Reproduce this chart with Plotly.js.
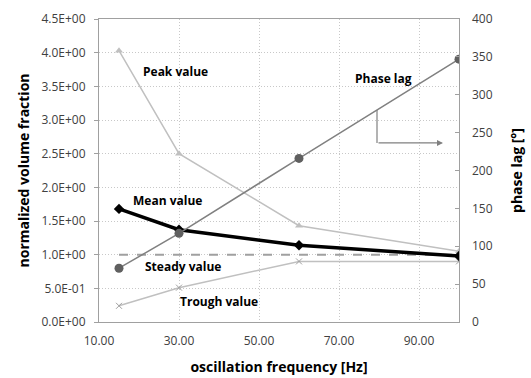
<!DOCTYPE html>
<html><head><meta charset="utf-8">
<script src="https://cdn.plot.ly/plotly-3.0.1.min.js"></script>
<style>body{margin:0;background:#fff}#c{width:531px;height:378px}</style>
</head><body><div id="c"></div>
<script>
const freq = [15, 30, 60, 100];
const peakValue = [4.03, 2.50, 1.43, 1.05];
const meanValue = [1.68, 1.37, 1.14, 0.98];
const troughValue = [0.24, 0.51, 0.90, 0.90];
const steadyX = [15, 100];
const steadyValue = [1.0, 1.0];
const phaseLag = [71, 117, 216, 347];
const yTickVals = [0, 0.5, 1, 1.5, 2, 2.5, 3, 3.5, 4, 4.5];
const yTickText = ["0.0E+00","5.0E-01","1.0E+00","1.5E+00","2.0E+00","2.5E+00","3.0E+00","3.5E+00","4.0E+00","4.5E+00"];
const xTickVals = [10, 30, 50, 70, 90];
const xTickText = ["10.00","30.00","50.00","70.00","90.00"];
const y2TickVals = [0, 50, 100, 150, 200, 250, 300, 350, 400];

const traces = [
  {x: freq, y: peakValue, mode: 'lines+markers', line: {color: '#c0c0c0', width: 1.5},
   marker: {symbol: 'triangle-up', size: 7, color: '#c0c0c0'}},
  {x: steadyX, y: steadyValue, mode: 'lines', line: {color: '#a0a0a0', width: 2, dash: 'dash'}},
  {x: freq, y: troughValue, mode: 'lines+markers', line: {color: '#c0c0c0', width: 1.5},
   marker: {symbol: 'x-thin', size: 6, color: '#a0a0a0', line: {color: '#a0a0a0', width: 1}}},
  {x: freq, y: meanValue, mode: 'lines+markers', line: {color: '#000', width: 3.5},
   marker: {symbol: 'diamond', size: 8, color: '#000'}},
  {x: freq, y: phaseLag, yaxis: 'y2', mode: 'lines+markers', line: {color: '#808080', width: 1.5},
   marker: {symbol: 'circle', size: 9, color: '#606060'}}
];

const fnt = {family: 'Open Sans, sans-serif', size: 12, color: '#404040'};
const bold = {family: 'Open Sans, sans-serif', size: 12, color: '#000', weight: 'bold'};
const titleFont = {family: 'Open Sans, sans-serif', size: 14, color: '#000', weight: 'bold'};

const layout = {
  width: 531, height: 378,
  margin: {l: 99, r: 72, t: 19, b: 56},
  showlegend: false,
  paper_bgcolor: '#fff', plot_bgcolor: '#fff',
  xaxis: {range: [10, 100], tickvals: xTickVals, ticktext: xTickText, showgrid: true,
    gridcolor: '#c8c8c8', griddash: '1px,2px', zeroline: false, showline: true, linecolor: '#a0a0a0',
    mirror: true, ticks: '', tickfont: fnt, ticklabelstandoff: 8,
    title: {text: 'oscillation frequency [Hz]', font: titleFont, standoff: 13}},
  yaxis: {range: [0, 4.5], tickvals: yTickVals, ticktext: yTickText, showgrid: true,
    gridcolor: '#c8c8c8', griddash: '1px,2px', zeroline: false, showline: true, linecolor: '#a0a0a0',
    mirror: true, ticks: 'outside', ticklen: 4, tickcolor: '#a0a0a0', tickfont: fnt, ticklabelstandoff: 6,
    title: {text: 'normalized volume fraction', font: titleFont, standoff: 8}},
  yaxis2: {range: [0, 400], tickvals: y2TickVals, overlaying: 'y', side: 'right', showgrid: false,
    zeroline: false, ticks: 'inside', ticklen: 4, tickcolor: '#a0a0a0', tickfont: fnt, ticklabelstandoff: 12,
    title: {text: 'phase lag [°]', font: titleFont, standoff: 20}},
  annotations: [
    {x: 29, y: 3.72, text: 'Peak value', showarrow: false, font: bold},
    {x: 81, y: 3.62, text: 'Phase lag', showarrow: false, font: bold},
    {x: 27, y: 1.8, text: 'Mean value', showarrow: false, font: bold},
    {x: 31, y: 0.82, text: 'Steady value', showarrow: false, font: bold},
    {x: 40, y: 0.31, text: 'Trough value', showarrow: false, font: bold},
    {x: 96, y: 2.66, ax: 79.5, ay: 2.66, axref: 'x', ayref: 'y', xref: 'x', yref: 'y', text: '',
     showarrow: true, arrowhead: 2, arrowsize: 1, arrowwidth: 1.2, arrowcolor: '#808080'}
  ],
  shapes: [
    {type: 'line', xref: 'x', yref: 'y', x0: 79.5, x1: 79.5, y0: 3.15, y1: 2.66, line: {color: '#808080', width: 1.2}}
  ]
};
Plotly.newPlot('c', traces, layout, {displayModeBar: false, staticPlot: true});
</script></body></html>
